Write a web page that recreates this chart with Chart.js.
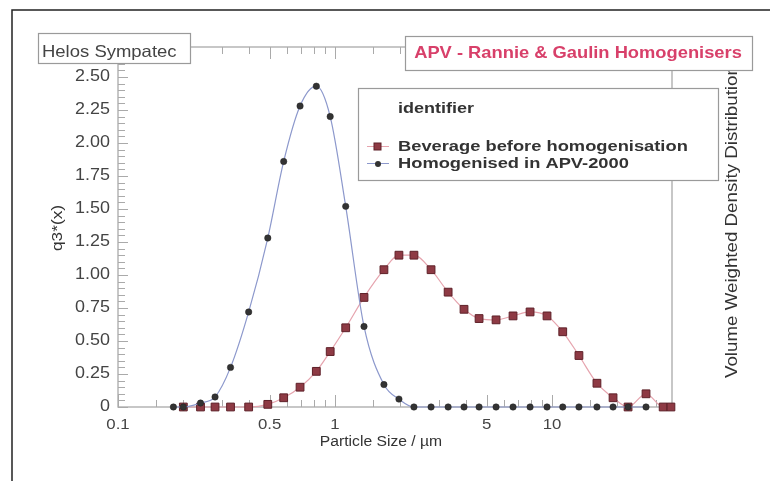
<!DOCTYPE html>
<html>
<head>
<meta charset="utf-8">
<script src="https://cdn.jsdelivr.net/npm/chart.js@4.4.1/dist/chart.umd.min.js"></script>
<style>
  body { margin: 0; background: #fff; }
  #wrap { width: 770px; height: 481px; }
</style>
</head>
<body>
<div id="wrap"><canvas id="psd" width="770" height="481"></canvas></div>
<script>
// --- DATA ---
const sizes = [0.18, 0.2, 0.24, 0.28, 0.33, 0.4, 0.49, 0.58, 0.69, 0.82, 0.95, 1.12, 1.36, 1.68, 1.97,
  2.31, 2.77, 3.32, 3.93, 4.61, 5.52, 6.61, 7.92, 9.48, 11.2, 13.3, 16.1, 19.1, 22.4, 27.1, 32.5, 35.3];

const beverage = [null, 0, 0, 0, 0, 0, 0.02, 0.07, 0.15, 0.27, 0.42, 0.6, 0.83, 1.04, 1.15,
  1.15, 1.04, 0.87, 0.74, 0.67, 0.66, 0.69, 0.72, 0.69, 0.57, 0.39, 0.18, 0.07, 0, 0.1, 0, 0];

const homogenised = [0, 0, 0.03, 0.076, 0.3, 0.72, 1.28, 1.86, 2.28, 2.43, 2.2, 1.52, 0.61, 0.17, 0.06,
  0, 0, 0, 0, 0, 0, 0, 0, 0, 0, 0, 0, 0, 0, 0, null, null];

const yTickValues = [0, 0.25, 0.5, 0.75, 1, 1.25, 1.5, 1.75, 2, 2.25, 2.5];
const yTickLabels = ['0', '0.25', '0.50', '0.75', '1.00', '1.25', '1.50', '1.75', '2.00', '2.25', '2.50'];
const xTickValues = [0.1, 0.5, 1, 5, 10];
const xTickLabels = ['0.1', '0.5', '1', '5', '10'];
const xMinorTicks = [0.15, 0.2, 0.3, 0.4, 0.6, 0.7, 0.8, 0.9, 1.5, 2, 3, 4, 6, 7, 8, 9, 15, 20, 30];

const seriesNames = ['Beverage before homogenisation', 'Homogenised in APV-2000'];

function toPoints(vals) {
  const pts = [];
  vals.forEach((v, i) => { if (v !== null) pts.push({ x: sizes[i], y: v }); });
  return pts;
}

// text helper, the original fonts are a bit wider than Arial
function txt(ctx, s, x, y, o) {
  ctx.save();
  ctx.translate(x, y);
  if (o.rot) ctx.rotate(o.rot);
  ctx.scale(o.sx || 1, 1);
  ctx.font = o.font;
  ctx.fillStyle = o.color || '#333';
  ctx.textAlign = o.align || 'left';
  ctx.textBaseline = o.base || 'alphabetic';
  ctx.fillText(s, 0, 0);
  ctx.restore();
}

function box(ctx, x, y, w, h) {
  ctx.save();
  ctx.fillStyle = '#fff';
  ctx.fillRect(x, y, w, h);
  ctx.strokeStyle = '#9a9a9a';
  ctx.lineWidth = 1.2;
  ctx.strokeRect(x + 0.5, y + 0.5, w, h);
  ctx.restore();
}

const frame = {
  id: 'frame',
  beforeDatasetsDraw(chart) {
    const { ctx, chartArea: a, scales: { x, y } } = chart;
    ctx.save();
    // outer page border
    ctx.strokeStyle = '#222';
    ctx.lineWidth = 1.5;
    ctx.beginPath();
    ctx.moveTo(12, 481); ctx.lineTo(12, 10); ctx.lineTo(770, 10);
    ctx.stroke();

    // plot frame
    ctx.strokeStyle = '#aaa';
    ctx.lineWidth = 1.3;
    ctx.strokeRect(a.left, a.top, a.right - a.left, a.bottom - a.top);

    // y ticks (inside)
    ctx.lineWidth = 1;
    ctx.beginPath();
    for (let v = 0; v <= 2.7; v += 0.05) {
      const py = Math.round(y.getPixelForValue(v)) + 0.5;
      const major = Math.abs(v / 0.25 - Math.round(v / 0.25)) < 0.01;
      ctx.moveTo(a.left, py); ctx.lineTo(a.left + (major ? 10 : 7), py);
    }
    // x ticks bottom (up) and top (down)
    const all = xTickValues.map(v => [v, true]).concat(xMinorTicks.map(v => [v, false]));
    all.forEach(([v, major]) => {
      const px = Math.round(x.getPixelForValue(v)) + 0.5;
      const len = major ? 12 : 7;
      ctx.moveTo(px, a.bottom); ctx.lineTo(px, a.bottom - len);
      ctx.moveTo(px, a.top); ctx.lineTo(px, a.top + len);
    });
    ctx.stroke();
    ctx.restore();

    // tick labels
    yTickValues.forEach((v, i) => {
      txt(ctx, yTickLabels[i], 110, y.getPixelForValue(v), { font: '16px "Liberation Sans", Arial', color: '#444', align: 'right', base: 'middle', sx: 1.12 });
    });
    xTickValues.forEach((v, i) => {
      txt(ctx, xTickLabels[i], x.getPixelForValue(v), 429, { font: '15px "Liberation Sans", Arial', color: '#444', align: 'center', sx: 1.12 });
    });

    // axis titles
    txt(ctx, 'Particle Size / µm', 381, 446, { font: '14px "Liberation Sans", Arial', color: '#333', align: 'center', sx: 1.12 });
    txt(ctx, 'q3*(x)', 62, 228, { font: '15px "Liberation Sans", Arial', color: '#333', align: 'center', rot: -Math.PI / 2, sx: 1.15 });
    txt(ctx, 'Volume Weighted Density Distribution', 737, 378, { font: '16px "Liberation Sans", Arial', color: '#333', align: 'left', rot: -Math.PI / 2, sx: 1.17 });
  },
  afterDatasetsDraw(chart) {
    const { ctx } = chart;
    // header boxes
    box(ctx, 38, 33, 152, 30);
    txt(ctx, 'Helos Sympatec', 42, 57, { font: '16.5px "Liberation Sans", Arial', color: '#444', sx: 1.12 });
    box(ctx, 405, 36, 347, 34);
    txt(ctx, 'APV - Rannie & Gaulin Homogenisers', 578, 58, { font: 'bold 16.5px "Liberation Sans", Arial', color: '#d8406a', align: 'center', sx: 1.11 });

    // legend box
    box(ctx, 358, 88, 360, 92);
    txt(ctx, 'identifier', 398, 113, { font: 'bold 15px "Liberation Sans", Arial', color: '#333', sx: 1.2 });
    txt(ctx, seriesNames[0], 398, 151, { font: 'bold 15px "Liberation Sans", Arial', color: '#333', sx: 1.22 });
    txt(ctx, seriesNames[1], 398, 168, { font: 'bold 15px "Liberation Sans", Arial', color: '#333', sx: 1.22 });
    ctx.save();
    ctx.lineWidth = 1;
    ctx.strokeStyle = '#e6a4ae';
    ctx.beginPath(); ctx.moveTo(367, 146.5); ctx.lineTo(389, 146.5); ctx.stroke();
    ctx.strokeStyle = '#8c98cc';
    ctx.beginPath(); ctx.moveTo(367, 163.5); ctx.lineTo(389, 163.5); ctx.stroke();
    ctx.fillStyle = '#8e3a44';
    ctx.strokeStyle = '#5e2028';
    ctx.fillRect(374, 143, 7, 7); ctx.strokeRect(374, 143, 7, 7);
    ctx.fillStyle = '#333';
    ctx.beginPath(); ctx.arc(378, 164, 3, 0, Math.PI * 2); ctx.fill();
    ctx.restore();
  }
};

const ctx = document.getElementById('psd').getContext('2d');
new Chart(ctx, {
  type: 'line',
  data: {
    datasets: [
      {
        label: seriesNames[0],
        data: toPoints(beverage),
        borderColor: '#e6a4ae',
        borderWidth: 1.2,
        pointStyle: 'rect',
        pointRadius: 5.5,
        pointBackgroundColor: '#8e3a44',
        pointBorderColor: '#5e2028',
        pointBorderWidth: 1,
        cubicInterpolationMode: 'monotone',
        clip: false,
        order: 2
      },
      {
        label: seriesNames[1],
        data: toPoints(homogenised),
        borderColor: '#8c98cc',
        borderWidth: 1.2,
        pointStyle: 'circle',
        pointRadius: 3.2,
        pointBackgroundColor: '#333',
        pointBorderColor: '#222',
        pointBorderWidth: 0.5,
        cubicInterpolationMode: 'monotone',
        clip: false,
        order: 1
      }
    ]
  },
  options: {
    responsive: false,
    animation: false,
    layout: { padding: { left: 118, right: 98, top: 47, bottom: 74 } },
    scales: {
      x: { type: 'logarithmic', min: 0.1, max: 35.7, display: false },
      y: { type: 'linear', min: 0, max: 2.727, display: false }
    },
    plugins: {
      legend: { display: false },
      tooltip: { enabled: false }
    }
  },
  plugins: [frame]
});
</script>
</body>
</html>
